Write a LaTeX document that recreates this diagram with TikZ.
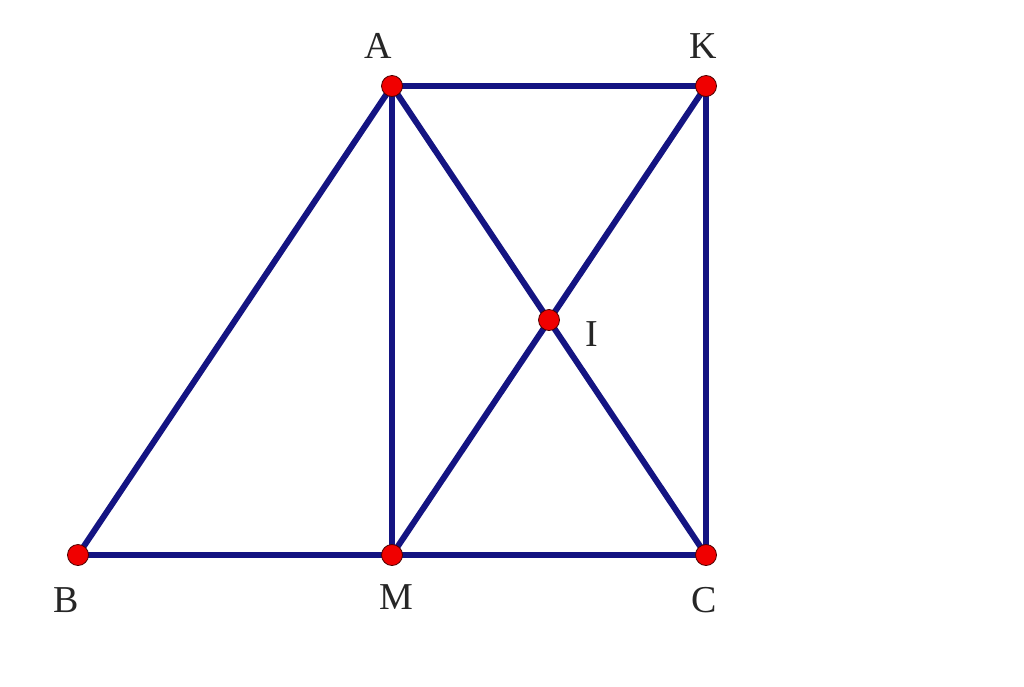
\documentclass[tikz,border=0pt]{standalone}
\usepackage{fontspec}
\setmainfont{Liberation Serif}
\definecolor{segblue}{RGB}{20,20,130}
\definecolor{ptred}{RGB}{240,0,0}
\tikzset{
  seg/.style={draw=segblue, line width=6pt, line cap=round},
  pt/.style={circle, fill=ptred, draw=black!70!red, line width=0.8pt, inner sep=0pt, minimum size=21pt},
  lbl/.style={font=\fontsize{38}{42}\selectfont, text=black!85, inner sep=0pt}
}
\begin{document}
\begin{tikzpicture}[x=1pt,y=-1pt]
\useasboundingbox (0,0) rectangle (1024,686);
\fill[white] (0,0) rectangle (1024,686);
\coordinate (A) at (392,86);
\coordinate (K) at (706,86);
\coordinate (B) at (78,555);
\coordinate (M) at (392,555);
\coordinate (C) at (706,555);
\coordinate (I) at (549,320);
\draw[seg] (A) -- (K);
\draw[seg] (K) -- (C);
\draw[seg] (B) -- (C);
\draw[seg] (A) -- (B);
\draw[seg] (A) -- (M);
\draw[seg] (A) -- (C);
\draw[seg] (K) -- (M);
\foreach \p in {A,K,B,M,C,I} \node[pt] (n\p) at (\p) {};
\node[lbl] (lA) at (378,46) {A};
\node[lbl] (lK) at (703,46) {K};
\node[lbl] (lI) at (592,334) {I};
\node[lbl] (lB) at (66,600) {B};
\node[lbl] (lM) at (396,597) {M};
\node[lbl] (lC) at (704,600) {C};
\end{tikzpicture}
\end{document}
